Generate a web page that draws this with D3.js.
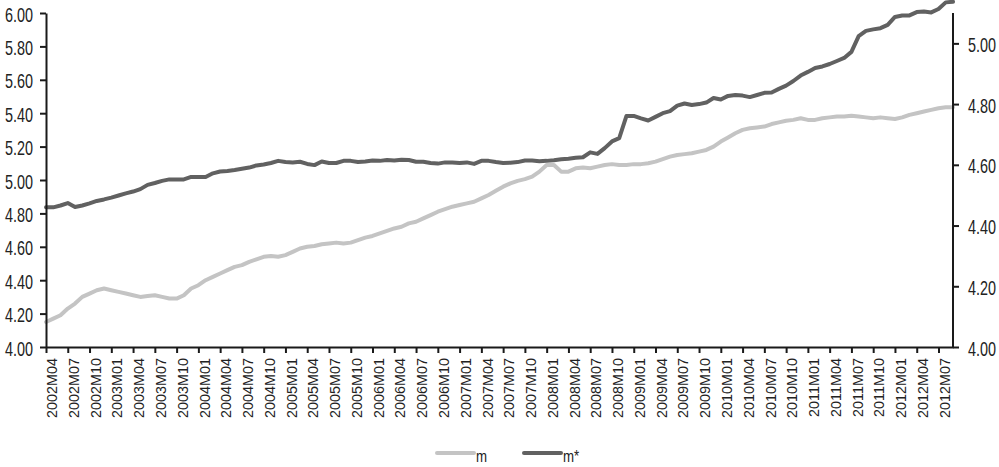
<!DOCTYPE html>
<html>
<head>
<meta charset="utf-8">
<script src="https://cdn.jsdelivr.net/npm/d3@7"></script>
<style>
    body { margin: 0; background: #fff; }
    svg { display: block; font-family: "Liberation Sans", Arial, sans-serif; }
</style>
</head>
<body>
<div id="chart"></div>
<script>

    // monthly categories, 2002M04 .. 2012M09
var startYear = 2002;
var startMonth = 4;
var monthCount = 126;
var months = [];
for (var k = 0; k < monthCount; k++) {
    var mm = startMonth - 1 + k;
    var yr = startYear + Math.floor(mm / 12);
    var mo = (mm % 12) + 1;
    months.push(yr + "M" + (mo < 10 ? "0" + mo : mo));
}

    // m, read against the left axis
var mValues = [
    4.15, 4.17, 4.19, 4.23, 4.26, 4.30, 4.32, 4.34, 4.35, 4.34,
    4.33, 4.32, 4.31, 4.30, 4.305, 4.31, 4.30, 4.29, 4.29, 4.31,
    4.35, 4.37, 4.40, 4.42, 4.44, 4.46, 4.48, 4.49, 4.51, 4.525,
    4.54, 4.545, 4.54, 4.55, 4.57, 4.59, 4.60, 4.605, 4.615, 4.62,
    4.625, 4.62, 4.625, 4.64, 4.655, 4.665, 4.68, 4.695, 4.71, 4.72,
    4.74, 4.75, 4.77, 4.79, 4.81, 4.825, 4.84, 4.85, 4.86, 4.87,
    4.89, 4.91, 4.935, 4.96, 4.98, 4.995, 5.005, 5.02, 5.05, 5.09,
    5.09, 5.05, 5.05, 5.07, 5.075, 5.07, 5.08, 5.09, 5.095, 5.09,
    5.09, 5.095, 5.095, 5.10, 5.11, 5.125, 5.14, 5.15, 5.155, 5.16,
    5.17, 5.18, 5.20, 5.23, 5.255, 5.28, 5.30, 5.31, 5.315, 5.32,
    5.335, 5.345, 5.355, 5.36, 5.37, 5.36, 5.36, 5.37, 5.375, 5.38,
    5.38, 5.385, 5.38, 5.375, 5.37, 5.375, 5.37, 5.365, 5.375, 5.39,
    5.40, 5.41, 5.42, 5.43, 5.435, 5.435
];

    // m*, read against the right axis
var mStarValues = [
    4.460, 4.460, 4.466, 4.474, 4.461, 4.466, 4.473, 4.481, 4.486, 4.492,
    4.499, 4.506, 4.512, 4.520, 4.534, 4.540, 4.547, 4.552, 4.552, 4.552,
    4.560, 4.560, 4.560, 4.572, 4.578, 4.580, 4.583, 4.587, 4.591, 4.598,
    4.601, 4.606, 4.613, 4.609, 4.608, 4.610, 4.603, 4.599, 4.611, 4.606,
    4.606, 4.613, 4.613, 4.609, 4.611, 4.614, 4.613, 4.616, 4.614, 4.617,
    4.616, 4.610, 4.610, 4.606, 4.604, 4.608, 4.608, 4.606, 4.608, 4.603,
    4.613, 4.613, 4.609, 4.606, 4.607, 4.609, 4.614, 4.614, 4.612, 4.613,
    4.615, 4.618, 4.620, 4.623, 4.625, 4.641, 4.636, 4.655, 4.677, 4.688,
    4.761, 4.761, 4.753, 4.746, 4.758, 4.770, 4.777, 4.795, 4.802, 4.797,
    4.800, 4.805, 4.820, 4.815, 4.827, 4.830, 4.828, 4.823, 4.830, 4.837,
    4.838, 4.850, 4.861, 4.876, 4.894, 4.906, 4.919, 4.924, 4.932, 4.942,
    4.952, 4.972, 5.024, 5.041, 5.046, 5.050, 5.061, 5.087, 5.092, 5.092,
    5.103, 5.105, 5.102, 5.113, 5.135, 5.137
];

var leftTicks = [4.0, 4.2, 4.4, 4.6, 4.8, 5.0, 5.2, 5.4, 5.6, 5.8, 6.0];
var rightTicks = [4.0, 4.2, 4.4, 4.6, 4.8, 5.0];
var legendNames = ["m", "m*"];

var W = 999, H = 467;
var plot = { left: 46, right: 953, top: 13, bottom: 347 };
var lightColor = "#c4c4c4";
var darkColor = "#616161";
var axisColor = "#1a1a1a";
var textColor = "#222";
var squeeze = 0.72;

var svg = d3.select("#chart").append("svg")
    .attr("width", W)
    .attr("height", H);

var x = d3.scalePoint().domain(months).range([plot.left, plot.right]);
var yLeft = d3.scaleLinear().domain([4, 6]).range([plot.bottom, plot.top]);
var yRight = d3.scaleLinear().domain([4, 5.1]).range([plot.bottom, plot.top]);

    // series lines (m under m*)
function drawSeries(values, scale, color) {
    var line = d3.line()
        .x(function (d, i) { return x(months[i]); })
        .y(function (d) { return scale(d); });
    svg.append("path")
        .datum(values)
        .attr("d", line)
        .attr("fill", "none")
        .attr("stroke", color)
        .attr("stroke-width", 4)
        .attr("stroke-linejoin", "round")
        .attr("stroke-linecap", "round");
}
drawSeries(mValues, yLeft, lightColor);
drawSeries(mStarValues, yRight, darkColor);

function styleAxis(g) {
    g.select(".domain").attr("stroke", axisColor).attr("stroke-width", 2);
    g.selectAll(".tick line").attr("stroke", axisColor).attr("stroke-width", 2);
    g.selectAll("text").attr("fill", textColor);
}

    // left axis
var gLeft = svg.append("g")
    .attr("transform", "translate(" + plot.left + ",0)")
    .call(d3.axisLeft(yLeft).tickValues(leftTicks).tickFormat(d3.format(".2f"))
        .tickSize(6).tickSizeOuter(0));
styleAxis(gLeft);
gLeft.selectAll("text")
    .attr("font-size", 20)
    .attr("x", -13 / squeeze)
    .attr("dy", "0.4em")
    .attr("transform", "scale(" + squeeze + ",1)");

    // right axis
var gRight = svg.append("g")
    .attr("transform", "translate(" + plot.right + ",0)")
    .call(d3.axisRight(yRight).tickValues(rightTicks).tickFormat(d3.format(".2f"))
        .tickSize(6).tickSizeOuter(0));
styleAxis(gRight);
gRight.select(".domain").attr("d", "M0," + plot.top + "V" + plot.bottom);
gRight.selectAll("text")
    .attr("font-size", 20)
    .attr("x", 15 / squeeze)
    .attr("dy", "0.4em")
    .attr("transform", "scale(" + squeeze + ",1)");

    // bottom axis, one label every third month (label sits just right of its tick)
var gBottom = svg.append("g")
    .attr("transform", "translate(0," + plot.bottom + ")")
    .call(d3.axisBottom(x)
        .tickValues(months.filter(function (d, i) { return i % 3 === 0; }))
        .tickSize(6).tickSizeOuter(0));
styleAxis(gBottom);
gBottom.selectAll("text")
    .attr("font-size", 14.4)
    .attr("text-anchor", "end")
    .attr("x", -11)
    .attr("y", 0)
    .attr("dy", "0.74em")
    .attr("transform", "rotate(-90)");

    // legend
var legend = svg.append("g").attr("transform", "translate(437,453)");
[lightColor, darkColor].forEach(function (c, i) {
    var item = legend.append("g").attr("transform", "translate(" + (i * 87) + ",0)");
    item.append("line")
        .attr("x1", 0).attr("x2", 37)
        .attr("stroke", c).attr("stroke-width", 4)
        .attr("stroke-linecap", "round");
    item.append("text")
        .attr("transform", "translate(39,9) scale(0.78,1)")
        .attr("font-size", 17)
        .attr("fill", textColor)
        .text(legendNames[i]);
});

</script>
</body>
</html>
